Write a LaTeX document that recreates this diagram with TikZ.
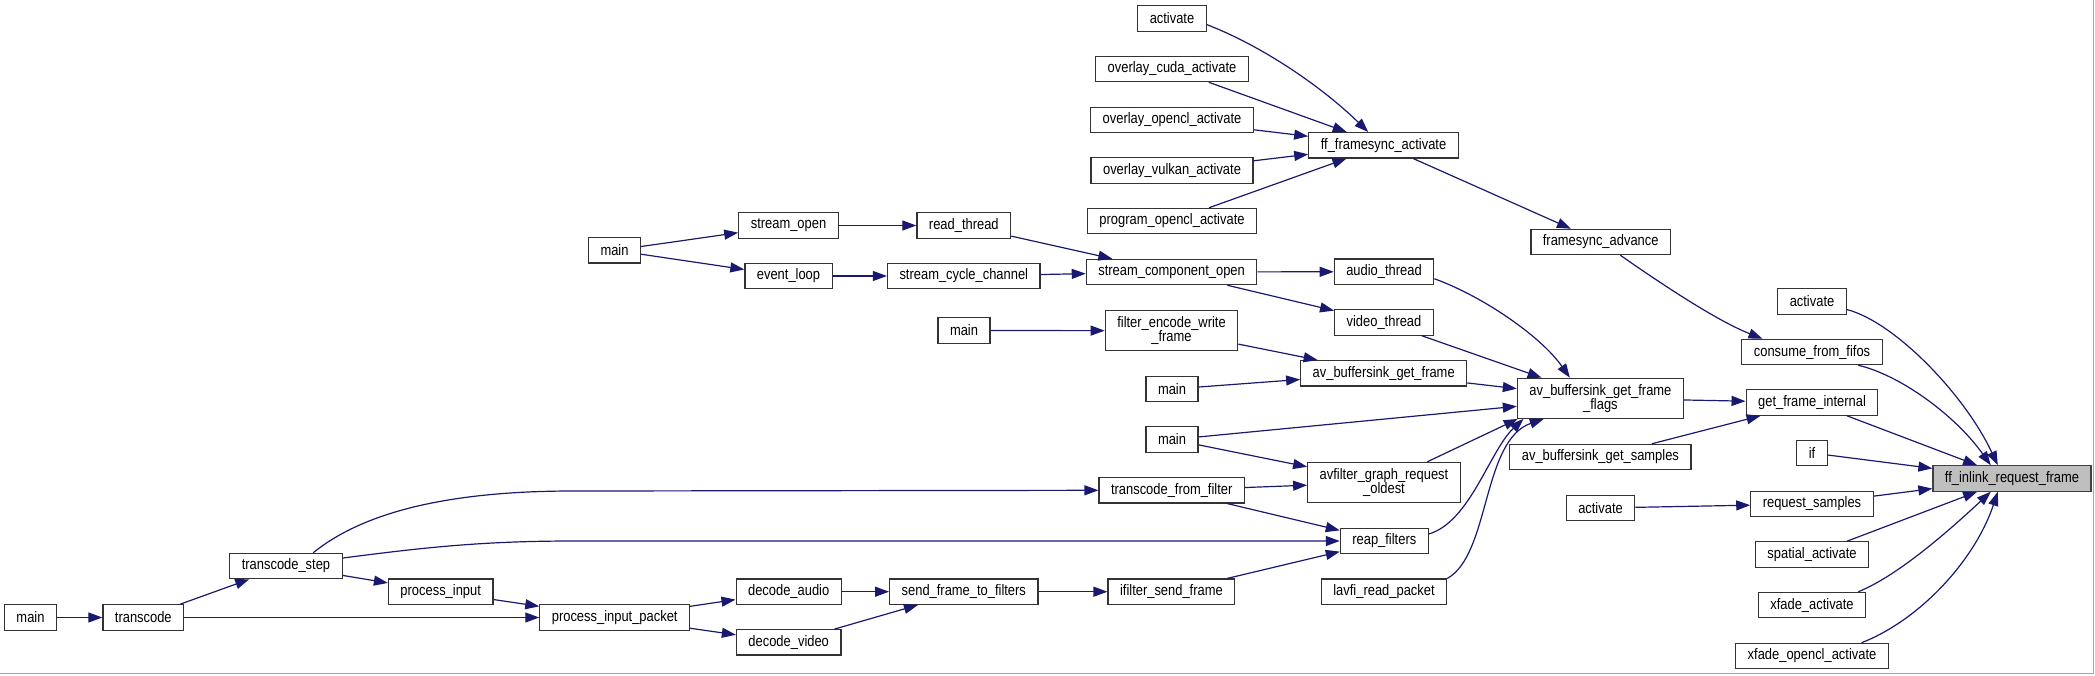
\documentclass[tikz,border=0pt]{standalone}
\usepackage{fontspec}
\usetikzlibrary{arrows.meta}
\newfontfamily\dxfontfam[FakeStretch=0.85]{Liberation Sans}
\newcommand\dxfont{\dxfontfam\fontsize{11.4pt}{10.8pt}\selectfont}
\definecolor{edgeblue}{HTML}{191970}
\begin{document}
\begin{tikzpicture}[x=0.75pt, y=-0.75pt,
    fn/.style={draw=black!80, line width=0.9pt, fill=white, inner xsep=9pt, inner ysep=2pt, minimum height=19pt, font=\dxfont},
    fntwo/.style={fn, align=center, minimum height=30pt},
    hl/.style={fn, fill=black!25, draw=black!75},
    edge/.style={draw=edgeblue, line width=0.9pt, -{Triangle[length=10.5pt,width=7.5pt]}}]
    \useasboundingbox (0,0) rectangle (2095,675);
    \draw[black!35, line width=1.1pt] (0,673.5) -- (2093.5,673.5) -- (2093.5,0);

    % ffmpeg: transcode
    \node[fn] (mainff) at (30.5,617.5) {main};
    \node[fn] (transcode) at (143.3,617.5) {transcode};
    \node[fn] (transcodestep) at (286,566) {transcode\_step};
    \node[fn] (processinput) at (440.7,591.7) {process\_input};
    \node[fn] (processpacket) at (614.7,617.5) {process\_input\_packet};
    \node[fn] (decodeaudio) at (788.7,591.7) {decode\_audio};
    \node[fn] (decodevideo) at (788.7,642.3) {decode\_video};
    \node[fn] (sendframe) at (963.8,591.7) {send\_frame\_to\_filters};
    \node[fn] (ifiltersend) at (1171.4,591.7) {ifilter\_send\_frame};
    \node[fn] (transfilter) at (1171.7,490.3) {transcode\_from\_filter};

    % ffplay
    \node[fn] (mainplay) at (614.5,250.3) {main};
    \node[fn] (streamopen) at (788.5,225.5) {stream\_open};
    \node[fn] (eventloop) at (788.5,276) {event\_loop};
    \node[fn] (readthread) at (963.8,225.5) {read\_thread};
    \node[fn] (streamcycle) at (963.8,276) {stream\_cycle\_channel};
    \node[fn] (streamcomp) at (1171.6,272) {stream\_component\_open};

    % framesync
    \node[fn] (activatea) at (1172,18.5) {activate};
    \node[fn] (overlaycuda) at (1172,69) {overlay\_cuda\_activate};
    \node[fn] (overlayopencl) at (1172,120) {overlay\_opencl\_activate};
    \node[fn] (overlayvulkan) at (1172,170.5) {overlay\_vulkan\_activate};
    \node[fn] (programopencl) at (1172,221) {program\_opencl\_activate};
    \node[fn] (framesyncact) at (1383.5,145.3) {ff\_framesync\_activate};
    \node[fn] (framesyncadv) at (1600.7,242) {framesync\_advance};

    % buffersink
    \node[fn] (mainenc) at (964,330.5) {main};
    \node[fntwo] (filterenc) at (1171.5,330.7) {filter\_encode\_write\\\_frame};
    \node[fn] (mainb) at (1172,389) {main};
    \node[fn] (mainc) at (1172,439.5) {main};
    \node[fn] (audiothread) at (1384,271.7) {audio\_thread};
    \node[fn] (videothread) at (1384,322.5) {video\_thread};
    \node[fn] (getframe) at (1383.7,373.3) {av\_buffersink\_get\_frame};
    \node[fntwo] (grapholdest) at (1384,482.3) {avfilter\_graph\_request\\\_oldest};
    \node[fn] (reapfilters) at (1384.3,541) {reap\_filters};
    \node[fn] (lavfiread) at (1384,591.7) {lavfi\_read\_packet};
    \node[fntwo] (getframeflags) at (1600.4,398.3) {av\_buffersink\_get\_frame\\\_flags};
    \node[fn] (getsamples) at (1600.4,457) {av\_buffersink\_get\_samples};
    \node[fn] (activateb) at (1600.5,508) {activate};

    % ff_inlink_request_frame
    \node[fn] (activatec) at (1812,301.5) {activate};
    \node[fn] (consumefifos) at (1812,352) {consume\_from\_fifos};
    \node[fn] (getframeint) at (1812,402.5) {get\_frame\_internal};
    \node[fn] (ifnode) at (1812,453) {if};
    \node[fn] (requestsamples) at (1812,504) {request\_samples};
    \node[fn] (spatialact) at (1812,554.5) {spatial\_activate};
    \node[fn] (xfadeact) at (1812,605) {xfade\_activate};
    \node[fn] (xfadeopencl) at (1812,656) {xfade\_opencl\_activate};
    \node[hl] (inlink) at (2012,478.5) {ff\_inlink\_request\_frame};

    % Связи: ffmpeg
    \draw[edge] (mainff) -- (transcode);
    \draw[edge] (transcode) -- (transcodestep);
    \draw[edge] (transcode) -- (processpacket);
    \draw[edge] (transcodestep) -- (processinput);
    \draw[edge] (transcodestep.26) .. controls (360,515) and (440,491) .. (573,491) -- (transfilter.west);
    \draw[edge] (transcodestep.8) .. controls (420,548) and (480,541) .. (573,541) -- (reapfilters.west);
    \draw[edge] (processinput) -- (processpacket);
    \draw[edge] (processpacket) -- (decodeaudio);
    \draw[edge] (processpacket) -- (decodevideo);
    \draw[edge] (decodeaudio) -- (sendframe);
    \draw[edge] (decodevideo) -- (sendframe);
    \draw[edge] (sendframe) -- (ifiltersend);
    \draw[edge] (ifiltersend) -- (reapfilters);
    \draw[edge] (transfilter) -- (grapholdest);
    \draw[edge] (transfilter) -- (reapfilters);

    % Связи: ffplay
    \draw[edge] (mainplay) -- (streamopen);
    \draw[edge] (mainplay) -- (eventloop);
    \draw[edge] (streamopen) -- (readthread);
    \draw[edge] (eventloop) -- (streamcycle);
    \draw[edge] (readthread) -- (streamcomp);
    \draw[edge] (streamcycle) -- (streamcomp);
    \draw[edge] (streamcomp) -- (audiothread);
    \draw[edge] (streamcomp) -- (videothread);

    % Связи: framesync
    \draw[edge] (activatea.-10) .. controls (1260,45) and (1320,85) .. (framesyncact.139);
    \draw[edge] (overlaycuda) -- (framesyncact);
    \draw[edge] (overlayopencl) -- (framesyncact);
    \draw[edge] (overlayvulkan) -- (framesyncact);
    \draw[edge] (programopencl) -- (framesyncact);
    \draw[edge] (framesyncact) -- (framesyncadv);
    \draw[edge] (framesyncadv.-34) .. controls (1670,290) and (1720,322) .. (consumefifos.165);

    % Связи: buffersink
    \draw[edge] (mainenc) -- (filterenc);
    \draw[edge] (filterenc) -- (getframe);
    \draw[edge] (mainb) -- (getframe);
    \draw[edge] (mainc) -- (grapholdest);
    \draw[edge] (mainc) -- (getframeflags);
    \draw[edge] (getframe) -- (getframeflags);
    \draw[edge] (videothread) -- (getframeflags);
    \draw[edge] (audiothread.-8) .. controls (1480,295) and (1540,335) .. (getframeflags.146);
    \draw[edge] (grapholdest) -- (getframeflags.-166);
    \draw[edge] (reapfilters.9) .. controls (1470,522) and (1490,450) .. (getframeflags.-165);
    \draw[edge] (lavfiread.north east) .. controls (1490,555) and (1482,440) .. (getframeflags.-160);
    \draw[edge] (getframeflags) -- (getframeint);
    \draw[edge] (getsamples) -- (getframeint);
    \draw[edge] (activateb) -- (requestsamples);

    % Связи: ff_inlink_request_frame
    \draw[edge] (activatec.-13) .. controls (1895,322) and (1965,395) .. (inlink.137);
    \draw[edge] (consumefifos.-16) .. controls (1900,375) and (1955,415) .. (inlink.148);
    \draw[edge] (getframeint) -- (inlink);
    \draw[edge] (ifnode) -- (inlink);
    \draw[edge] (requestsamples) -- (inlink);
    \draw[edge] (spatialact) -- (inlink);
    \draw[edge] (xfadeact.16) .. controls (1900,575) and (1955,525) .. (inlink.-148);
    \draw[edge] (xfadeopencl.15) .. controls (1920,620) and (1975,560) .. (inlink.-137);
\end{tikzpicture}
\end{document}
